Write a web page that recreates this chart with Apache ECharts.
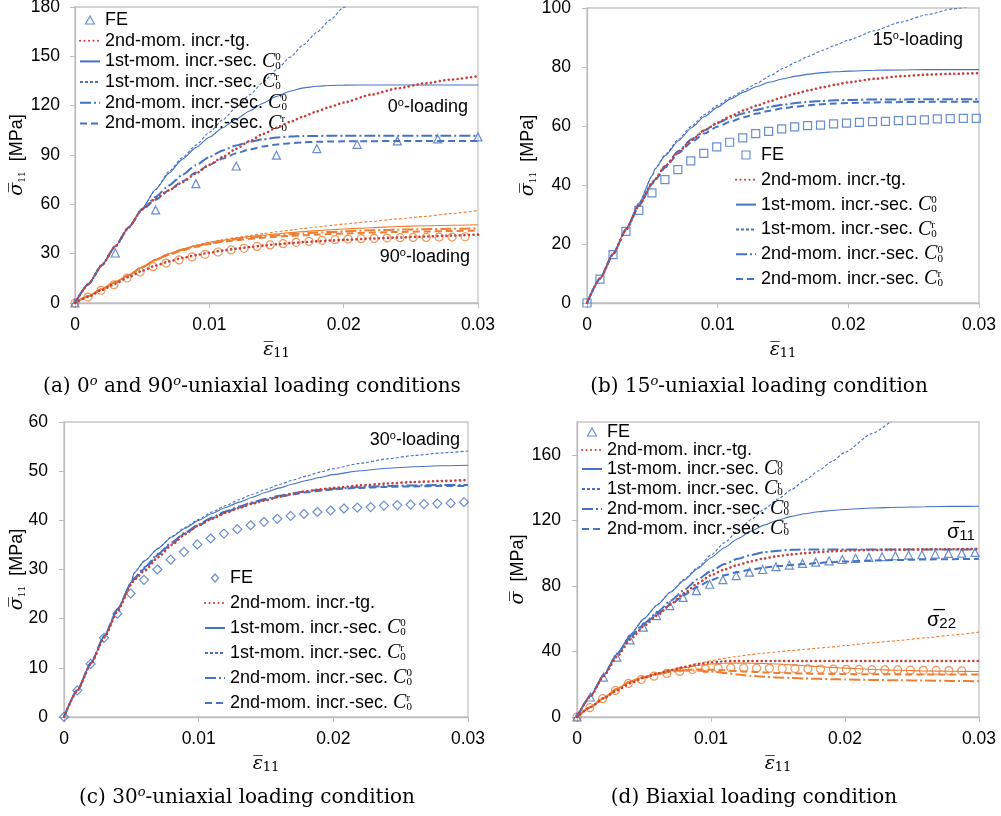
<!DOCTYPE html>
<html>
<head>
<meta charset="utf-8">
<script src="https://cdn.jsdelivr.net/npm/echarts@6.0.0/dist/echarts.min.js"></script>
<style>
html, body { margin: 0; padding: 0; background: #fff; }
#wrap { position: relative; width: 1001px; height: 816px; }
.panel { position: absolute; }
</style>
</head>
<body>
<div id="wrap">
  <div id="pa" class="panel" style="left:0;top:0;width:500px;height:400px"></div>
  <div id="pb" class="panel" style="left:500px;top:0;width:501px;height:400px"></div>
  <div id="pc" class="panel" style="left:0;top:400px;width:500px;height:416px"></div>
  <div id="pd" class="panel" style="left:500px;top:400px;width:501px;height:416px"></div>
</div>
<script>
// ---------- strain sampling of the model curves ----------
const strainAD = [0, 0.001, 0.002, 0.003, 0.004, 0.005, 0.006, 0.007, 0.008, 0.009, 0.010,
  0.011, 0.012, 0.013, 0.014, 0.015, 0.016, 0.017, 0.018, 0.019, 0.020,
  0.022, 0.024, 0.026, 0.028, 0.030];
const strainBC = [0, 0.001, 0.002, 0.003, 0.004, 0.005, 0.0052, 0.006, 0.007, 0.008, 0.009, 0.010,
  0.011, 0.012, 0.013, 0.014, 0.015, 0.016, 0.017, 0.018, 0.019, 0.020,
  0.022, 0.024, 0.026, 0.028, 0.030];

// ---------- (a) 0° and 90° uniaxial ----------
const feA0Strain = [0, 0.003, 0.006, 0.009, 0.012, 0.015, 0.018, 0.021, 0.024, 0.027, 0.030];
const feA0Stress = [0, 30.4, 56.6, 72.6, 83.3, 89.9, 93.9, 96.5, 98.6, 99.8, 101];
const tgA0   = [0, 11.5, 23, 34.5, 46, 57, 63.5, 68.5, 73.5, 78.8, 84, 88.8, 93.8, 98.5, 102.8, 106.6, 110.1, 113.4, 116.5, 119.3, 121.9, 126.6, 130.5, 133.5, 135.9, 137.9];
const s1c0A0 = [0, 11.5, 23, 34.5, 46, 57.5, 69, 79, 87.5, 94.5, 100.8, 106.6, 111.8, 116.8, 121.5, 125.6, 128.8, 130.8, 131.8, 132.3, 132.5, 132.6, 132.6, 132.6, 132.6, 132.6];
const s1crA0 = [0, 11.5, 23, 34.5, 46, 57.5, 69, 80, 88.5, 96, 103.8, 111.4, 119, 126.6, 134.2, 141.8, 149.4, 157, 164.6, 172.2, 179.8, 195];
const s2c0A0 = [0, 11.5, 23, 34.5, 46, 57, 64.5, 71.5, 78, 83.8, 88.8, 92.8, 95.8, 98, 99.6, 100.6, 101.2, 101.5, 101.6, 101.7, 101.7, 101.7, 101.7, 101.7, 101.7, 101.7];
const s2crA0 = [0, 11.5, 23, 34.5, 46, 56.8, 62.8, 68.5, 74, 79.3, 84, 87.8, 91, 93.4, 95.2, 96.4, 97.2, 97.7, 98, 98.2, 98.3, 98.4, 98.5, 98.5, 98.5, 98.5];

const feA90Strain = [0, 0.00097, 0.00194, 0.0029, 0.00387, 0.00484, 0.00581, 0.00678, 0.00774, 0.00871, 0.00968,
  0.01065, 0.01162, 0.01258, 0.01355, 0.01452, 0.01549, 0.01646, 0.01742, 0.01839, 0.01936,
  0.02033, 0.0213, 0.02226, 0.02323, 0.0242, 0.02517, 0.02614, 0.0271, 0.02807, 0.02904];
const feA90Stress = [0, 3.6, 7.7, 11.1, 15.2, 18.9, 22.1, 24.3, 26.2, 28, 29.6, 31, 32.3, 33.3, 34.4, 35.3, 36.1, 36.9, 37.5, 38.1,
  38.5, 38.9, 39.1, 39.3, 39.5, 39.7, 39.9, 39.9, 40.1, 40.1, 40.3];
const tgA90   = [0, 3.8, 7.9, 11.7, 15.8, 19.6, 22.8, 25.3, 27.4, 29.1, 30.6, 31.9, 33, 34, 34.9, 35.7, 36.4, 37, 37.5, 38, 38.4, 39.2, 39.8, 40.4, 41, 41.6];
const s1c0A90 = [0, 4.2, 8.5, 12.7, 17, 21.8, 26.5, 30, 32.8, 35, 36.8, 38.2, 39.4, 40.4, 41.3, 42.1, 42.8, 43.4, 44, 44.5, 45, 45.8, 46.5, 47, 47.3, 47.6];
const s1crA90 = [0, 4.2, 8.5, 12.7, 17, 21.8, 26.5, 30, 32.8, 35.1, 37, 38.5, 39.8, 41, 42.2, 43.3, 44.3, 45.3, 46.2, 47.1, 48, 49.6, 51.1, 52.6, 54.4, 56.2];
const s2c0A90 = [0, 4.2, 8.5, 12.7, 17, 21.8, 26.3, 29.6, 32.4, 34.6, 36.3, 37.7, 38.8, 39.7, 40.5, 41.2, 41.8, 42.3, 42.8, 43.2, 43.6, 44.2, 44.6, 44.9, 45.1, 45.3];
const s2crA90 = [0, 4.2, 8.5, 12.7, 17, 21.7, 26.1, 29.3, 32, 34.2, 35.9, 37.2, 38.2, 39, 39.7, 40.3, 40.8, 41.2, 41.6, 42, 42.3, 42.8, 43.2, 43.5, 43.8, 44];

// ---------- (b) 15° uniaxial ----------
const feBStrain = [0, 0.00099, 0.00199, 0.00298, 0.00397, 0.00497, 0.00596, 0.00695, 0.00794, 0.00894, 0.00993,
  0.01092, 0.01192, 0.01291, 0.0139, 0.0149, 0.01589, 0.01688, 0.01787, 0.01887, 0.01986,
  0.02085, 0.02185, 0.02284, 0.02383, 0.02483, 0.02582, 0.02681, 0.0278, 0.0288, 0.02979];
const feBStress = [0, 8.1, 16.4, 24.3, 31.4, 37.3, 41.8, 45.2, 48.2, 50.7, 52.9, 54.5, 56, 57.4, 58.2, 59, 59.7, 60.1, 60.3, 60.7,
  61, 61.2, 61.5, 61.6, 61.8, 61.9, 62.1, 62.4, 62.5, 62.6, 62.6];
const tgB   = [0, 8.3, 16.6, 24.9, 33.2, 40.8, 42, 46.5, 51.2, 55.2, 58.5, 61.1, 63.4, 65.3, 66.9, 68.4, 69.8, 71, 72.1, 73.1, 74, 74.8, 76, 76.9, 77.4, 77.7, 77.9];
const s1c0B = [0, 8.4, 16.8, 25.3, 34, 43.2, 45.4, 50, 55, 59.4, 63.2, 66.4, 69.2, 71.5, 73.4, 74.9, 76, 76.9, 77.6, 78.1, 78.4, 78.6, 78.9, 79, 79.1, 79.1, 79.1];
const s1crB = [0, 8.4, 16.8, 25.3, 34, 43.2, 45.4, 50.3, 55.5, 60, 63.9, 67, 69.7, 72.1, 74.5, 77, 79.5, 81.7, 83.7, 85.6, 87.4, 89.1, 92.3, 95.2, 97.7, 99.7, 101.2];
const s2c0B = [0, 8.3, 16.6, 24.9, 33.2, 40.6, 41.8, 46.5, 51.5, 55.5, 58.6, 61.1, 62.9, 64.3, 65.5, 66.5, 67.2, 67.8, 68.2, 68.5, 68.7, 68.8, 69, 69, 69.1, 69.1, 69.1];
const s2crB = [0, 8.3, 16.6, 24.9, 33.2, 40.4, 41.6, 46, 50.8, 54.5, 57.5, 59.8, 61.5, 63, 64.2, 65.2, 66, 66.6, 67, 67.4, 67.6, 67.8, 68, 68.1, 68.2, 68.2, 68.2];

// ---------- (c) 30° uniaxial ----------
const feCStrain = [0, 0.00099, 0.00198, 0.00297, 0.00396, 0.00495, 0.00594, 0.00693, 0.00792, 0.00891, 0.0099,
  0.01089, 0.01188, 0.01287, 0.01386, 0.01485, 0.01584, 0.01683, 0.01782, 0.01881, 0.0198,
  0.02079, 0.02178, 0.02277, 0.02376, 0.02475, 0.02574, 0.02673, 0.02772, 0.02871, 0.0297];
const feCStress = [0, 5.4, 10.8, 16.1, 21, 25.1, 27.9, 30, 32, 33.6, 35.1, 36.3, 37.3, 38.2, 39, 39.7, 40.3, 40.9, 41.3, 41.7,
  42, 42.4, 42.6, 42.7, 43, 43.1, 43.2, 43.3, 43.4, 43.5, 43.7];
const tgC   = [0, 5.4, 10.8, 16.2, 21.6, 27, 27.9, 29.8, 32.5, 35, 37.2, 39, 40.3, 41.5, 42.5, 43.4, 44.1, 44.8, 45.4, 45.9, 46.3, 46.6, 47.1, 47.5, 47.8, 48, 48.2];
const s1c0C = [0, 5.5, 11, 16.5, 22, 27.4, 29.3, 31.8, 34.3, 36.6, 38.4, 40, 41.4, 42.6, 43.7, 44.7, 45.7, 46.6, 47.4, 48.1, 48.7, 49.3, 50.1, 50.6, 50.9, 51.1, 51.2];
const s1crC = [0, 5.5, 11, 16.5, 22, 27.4, 29.3, 31.8, 34.3, 36.7, 38.6, 40.2, 41.7, 43, 44.2, 45.3, 46.3, 47.3, 48.2, 49, 49.8, 50.5, 51.6, 52.5, 53.2, 53.7, 54.1];
const s2c0C = [0, 5.5, 11, 16.5, 22, 27.3, 28.2, 30.5, 33.2, 35.5, 37.5, 39.2, 40.6, 41.8, 42.8, 43.7, 44.4, 45, 45.5, 45.9, 46.2, 46.4, 46.8, 47, 47.1, 47.2, 47.2];
const s2crC = [0, 5.5, 11, 16.5, 22, 27.2, 28, 30.2, 33, 35.3, 37.3, 39, 40.4, 41.6, 42.6, 43.5, 44.2, 44.8, 45.3, 45.7, 46, 46.3, 46.6, 46.8, 46.9, 47, 47];

// ---------- (d) biaxial: sigma_11 and sigma_22 ----------
const feD11Strain = feCStrain;
const feD11Stress = [0, 12.2, 24.3, 36.5, 47, 54.8, 61.9, 68, 73, 77.1, 81, 83.8, 86.3, 88.4, 90, 91.7, 92.7, 93.7, 94.5, 95.3,
  96.1, 96.8, 97.4, 97.8, 98.4, 98.8, 99, 99.4, 99.8, 100, 100.4];
const tgD11   = [0, 12.5, 25, 37, 47.5, 55.5, 62, 69, 75.5, 81.5, 86.5, 90, 92.8, 95, 96.8, 98.2, 99.2, 100, 100.6, 101.1, 101.5, 101.9, 102.1, 102.3, 102.4, 102.5];
const s1c0D11 = [0, 12.8, 25.6, 38.4, 50.5, 60, 68.5, 76.3, 83.5, 90.5, 97.2, 103.3, 108.8, 113.5, 117.2, 120.2, 122.4, 124, 125.2, 126, 126.6, 127.5, 128, 128.3, 128.5, 128.6];
const s1crD11 = [0, 12.8, 25.6, 38.4, 50.5, 60, 68.5, 76.5, 84, 91.3, 98.8, 106.3, 113.6, 120.5, 127, 133, 138.7, 144.4, 150.1, 155.8, 161.5, 172.9, 184.3];
const s2c0D11 = [0, 12.8, 25.6, 38.4, 49.5, 57, 64, 71, 77.5, 84, 89, 93.3, 96.5, 99, 100.6, 101.5, 102, 102.2, 102.2, 102.2, 102.2, 102.2, 102.2, 102.2, 102.2, 102.2];
const s2crD11 = [0, 12.8, 25.6, 38.4, 49, 56.5, 63, 68.5, 74.5, 79.5, 83.5, 86.5, 88.5, 90, 91.2, 92.1, 92.8, 93.4, 94, 94.5, 94.9, 95.5, 95.8, 96.1, 96.3, 96.5];

const feD22Strain = [0, 0.00096, 0.00191, 0.00287, 0.00383, 0.00479, 0.00574, 0.0067, 0.00766, 0.00861, 0.00957,
  0.01053, 0.01148, 0.01244, 0.0134, 0.01436, 0.01531, 0.01627, 0.01723, 0.01818, 0.01914,
  0.0201, 0.02105, 0.02201, 0.02297, 0.02393, 0.02488, 0.02584, 0.0268, 0.02775, 0.02871];
const feD22Stress = [0, 5.7, 11.2, 16.2, 20.5, 22.9, 24.9, 26.6, 27.8, 29, 29.4, 29.8, 30, 29.9, 29.8, 29.7, 29.6, 29.5, 29.4, 29.3,
  29.2, 29.1, 29, 28.9, 28.8, 28.7, 28.6, 28.5, 28.4, 28.3, 28.2];
const tgD22   = [0, 6, 11.5, 16.3, 20.7, 24, 26.5, 28.5, 30.5, 32.2, 33.4, 34, 34.2, 34.2, 34.2, 34.2, 34.2, 34.2, 34.2, 34.2, 34.2, 34.2, 34.2, 34.2, 34.2, 34.2];
const s1c0D22 = [0, 6, 11.6, 17.2, 22, 24.5, 26.5, 28.3, 30, 31.4, 32.3, 32.8, 32.9, 32.8, 32.6, 32.3, 31.8, 31.3, 30.8, 30.3, 29.8, 29, 28.5, 28.1, 27.9, 27.8];
const s1crD22 = [0, 6, 11.6, 17.2, 22, 24.7, 26.9, 28.8, 30.7, 32.6, 34.3, 35.8, 37.1, 38.1, 39, 39.8, 40.6, 41.3, 42, 42.8, 43.6, 45.2, 46.7, 48.3, 50, 51.8];
const s2c0D22 = [0, 6, 11.6, 17.2, 21.8, 24.2, 26.2, 27.6, 28.3, 28.3, 27.7, 26.8, 25.9, 25.1, 24.5, 24.1, 23.8, 23.5, 23.3, 23.1, 22.9, 22.6, 22.4, 22.2, 22, 21.8];
const s2crD22 = [0, 6, 11.6, 17.2, 21.8, 24.2, 26.2, 27.7, 28.6, 29, 28.9, 28.5, 28, 27.6, 27.2, 26.9, 26.7, 26.5, 26.4, 26.3, 26.2, 26.1, 26, 26, 25.9, 25.9];

// ---------- styling ----------
const BLUE = '#4472C4', ORANGE = '#ED7D31', RED = '#C8403A';
const SANS = 'Liberation Sans', SERIF = 'DejaVu Serif', MATH = 'Liberation Serif';

const lineStyles = {
  tg:   (c) => ({ color: c, width: 2.6, type: [0.1, 4.4], cap: 'round' }),
  s1c0: (c) => ({ color: c, width: 1.1, type: 'solid' }),
  s1cr: (c) => ({ color: c, width: 1.1, type: [3, 2] }),
  s2c0: (c) => ({ color: c, width: 2, type: [11, 3, 2, 3] }),
  s2cr: (c) => ({ color: c, width: 2, type: [7, 4] })
};

// hollow outline glyphs used as legend keys for the FE points
const feIcons = {
  triangle: 'path://M4.5,0 L9,8 L0,8 Z',
  rect: 'path://M0,0 L8,0 L8,8 L0,8 Z',
  diamond: 'path://M4,0 L8,4.5 L4,9 L0,4.5 Z'
};

const legendText = {
  FE: '{t|FE}',
  tg: '{t|2nd-mom. incr.-tg.}',
  s1c0: '{t|1st-mom. incr.-sec. }{c|C}{sb|0}{sp|0}',
  s1cr: '{t|1st-mom. incr.-sec. }{c|C}{sb|0}{sp|r}',
  s2c0: '{t|2nd-mom. incr.-sec. }{c|C}{sb|0}{sp|0}',
  s2cr: '{t|2nd-mom. incr.-sec. }{c|C}{sb|0}{sp|r}'
};

function zip(xs, ys) { return ys.map((y, i) => [xs[i], y]); }

function curve(name, key, xs, ys, color, z) {
  return {
    type: 'line', name: name, data: zip(xs, ys), symbol: 'none', showSymbol: false,
    smooth: 0.2, smoothMonotone: 'x', clip: true, lineStyle: lineStyles[key](color),
    itemStyle: { color: color }, emphasis: { disabled: true }, silent: true, z: z || 2
  };
}

function markers(name, xs, ys, symbol, color, size) {
  return {
    type: 'scatter', name: name, data: zip(xs, ys), symbol: symbol, symbolSize: size || 8,
    itemStyle: { color: 'rgba(255,255,255,0)', borderColor: color, borderWidth: 1.2 },
    emphasis: { disabled: true }, silent: true, z: 3
  };
}

function legendRich(lh) {
  return {
    t:  { fontFamily: SANS, fontSize: 18, lineHeight: lh, color: '#000' },
    c:  { fontFamily: MATH, fontStyle: 'italic', fontSize: 20, lineHeight: lh, color: '#000' },
    sb: { fontFamily: MATH, fontSize: 11, lineHeight: 9, verticalAlign: 'bottom', color: '#000', width: 0 },
    sp: { fontFamily: MATH, fontSize: 11, lineHeight: 9, verticalAlign: 'top', color: '#000' }
  };
}

const axisNameRich = {
  s: { fontFamily: SERIF, fontStyle: 'italic', fontSize: 19, color: '#000' },
  e: { fontFamily: SERIF, fontStyle: 'italic', fontSize: 19, color: '#000' },
  b: { fontFamily: SERIF, fontSize: 9, verticalAlign: 'bottom', lineHeight: 9, color: '#000' },
  x: { fontFamily: SERIF, fontSize: 13, verticalAlign: 'bottom', lineHeight: 12, color: '#000' },
  t: { fontFamily: SANS, fontSize: 18, color: '#000' }
};

const noteRich = {
  n: { fontFamily: SANS, fontSize: 18, color: '#000', lineHeight: 20 },
  o: { fontFamily: SANS, fontSize: 11, color: '#000', lineHeight: 11, verticalAlign: 'top' },
  g: { fontFamily: SANS, fontSize: 20, color: '#000', lineHeight: 22 },
  k: { fontFamily: SANS, fontSize: 15, color: '#000', lineHeight: 12, verticalAlign: 'bottom' }
};

const captionRich = {
  c: { fontFamily: SERIF, fontSize: 20, color: '#000', lineHeight: 24 },
  o: { fontFamily: SERIF, fontStyle: 'italic', fontSize: 13, color: '#000', lineHeight: 13, verticalAlign: 'top' }
};

function note(x, y, text, align) {
  return { type: 'text', x: x, y: y, silent: true,
    style: { text: text, rich: noteRich, align: align || 'right', verticalAlign: 'middle' } };
}

function caption(x, y, text) {
  return { type: 'text', x: x, y: y, silent: true,
    style: { text: text, rich: captionRich, align: 'center', verticalAlign: 'middle' } };
}

function legendItems(feIcon) {
  const hide = { opacity: 0 };
  return [
    { name: 'FE', icon: feIcon, itemStyle: { color: 'rgba(255,255,255,0)', borderColor: BLUE, borderWidth: 1.2 } },
    { name: 'tg', itemStyle: hide },
    { name: 's1c0', itemStyle: hide },
    { name: 's1cr', itemStyle: hide },
    { name: 's2c0', itemStyle: hide },
    { name: 's2cr', itemStyle: hide }
  ];
}

function buildPanel(el, p) {
  const chart = echarts.init(document.getElementById(el), null, { renderer: 'canvas' });
  chart.setOption({
    animation: false,
    backgroundColor: '#fff',
    grid: Object.assign({ show: true, borderColor: '#C6C6C6', borderWidth: 1.3,
      containLabel: false, outerBoundsMode: 'none' }, p.grid),
    xAxis: {
      type: 'value', min: 0, max: 0.03, interval: 0.01,
      name: '{e|ε\u0305}{x|11}', nameLocation: 'middle', nameGap: p.xNameGap, nameMoveOverlap: false,
      nameTextStyle: { rich: axisNameRich },
      axisLine: { show: true, onZero: false, lineStyle: { color: '#BDBDBD', width: 1.3 } },
      axisTick: { show: true, inside: false, length: 5, lineStyle: { color: '#BDBDBD' } },
      axisLabel: { margin: 13, fontFamily: SANS, fontSize: 17.5, color: '#000',
        formatter: (v) => (v === 0 ? '0' : String(+v.toFixed(2))) },
      splitLine: { show: false }
    },
    yAxis: {
      type: 'value', min: 0, max: p.yMax, interval: p.yInterval,
      name: p.yName, nameLocation: 'middle', nameGap: p.yNameGap, nameRotate: 90, nameMoveOverlap: false,
      nameTextStyle: { rich: axisNameRich },
      axisLine: { show: true, onZero: false, lineStyle: { color: '#BDBDBD', width: 1.3 } },
      axisTick: { show: true, inside: false, length: 5, lineStyle: { color: '#BDBDBD' } },
      axisLabel: { margin: p.yLabelMargin, fontFamily: SANS, fontSize: 17.5, color: '#000',
        showMaxLabel: p.showMax !== false },
      splitLine: { show: false }
    },
    legend: {
      orient: 'vertical', left: p.legend.left, top: p.legend.top, itemGap: p.legend.gap,
      itemWidth: 20, itemHeight: 8, padding: 0, selectedMode: false,
      data: legendItems(p.feIcon),
      formatter: (name) => legendText[name],
      textStyle: { rich: legendRich(p.legend.lh), lineHeight: p.legend.lh }
    },
    graphic: p.graphic,
    series: p.series
  });
  return chart;
}

// (a)
buildPanel('pa', {
  grid: { left: 75, top: 7, width: 403, height: 296 },
  yMax: 180, yInterval: 30, yLabelMargin: 15,
  yName: '{s|σ\u0305}{b|11}{t|  [MPa]}', yNameGap: 48, xNameGap: 38,
  feIcon: feIcons.triangle,
  legend: { left: 79, top: 10, gap: 0.7, lh: 20 },
  graphic: [
    note(468, 107, '{n|0}{o|o}{n|-loading}'),
    note(470, 257, '{n|90}{o|o}{n|-loading}'),
    caption(252, 387, '{c|(a) 0}{o|o}{c| and 90}{o|o}{c|-uniaxial loading conditions}')
  ],
  series: [
    curve('a90-s1cr', 's1cr', strainAD, s1crA90, ORANGE),
    curve('a90-s1c0', 's1c0', strainAD, s1c0A90, ORANGE),
    curve('a90-s2c0', 's2c0', strainAD, s2c0A90, ORANGE),
    curve('a90-s2cr', 's2cr', strainAD, s2crA90, ORANGE),
    markers('a90-FE', feA90Strain, feA90Stress, 'circle', ORANGE, 8),
    curve('a90-tg', 'tg', strainAD, tgA90, RED, 4),
    markers('FE', feA0Strain, feA0Stress, 'triangle', BLUE, 8),
    curve('tg', 'tg', strainAD, tgA0, RED, 4),
    curve('s1c0', 's1c0', strainAD, s1c0A0, BLUE),
    curve('s1cr', 's1cr', strainAD, s1crA0, BLUE),
    curve('s2c0', 's2c0', strainAD, s2c0A0, BLUE),
    curve('s2cr', 's2cr', strainAD, s2crA0, BLUE)
  ]
});

// (b)
buildPanel('pb', {
  grid: { left: 87, top: 8, width: 392, height: 295 },
  yMax: 100, yInterval: 20, yLabelMargin: 16,
  yName: '{s|σ\u0305}{b|11}{t|  [MPa]}', yNameGap: 49, xNameGap: 38,
  feIcon: feIcons.rect,
  legend: { left: 235, top: 145, gap: 4.8, lh: 20 },
  graphic: [
    note(463, 40, '{n|15}{o|o}{n|-loading}'),
    caption(259, 387, '{c|(b) 15}{o|o}{c|-uniaxial loading condition}')
  ],
  series: [
    markers('FE', feBStrain, feBStress, 'rect', BLUE, 8),
    curve('tg', 'tg', strainBC, tgB, RED, 4),
    curve('s1c0', 's1c0', strainBC, s1c0B, BLUE),
    curve('s1cr', 's1cr', strainBC, s1crB, BLUE),
    curve('s2c0', 's2c0', strainBC, s2c0B, BLUE),
    curve('s2cr', 's2cr', strainBC, s2crB, BLUE)
  ]
});

// (c)
buildPanel('pc', {
  grid: { left: 64, top: 22, width: 404, height: 295 },
  yMax: 60, yInterval: 10, yLabelMargin: 16,
  yName: '{s|σ\u0305}{b|11}{t|  [MPa]}', yNameGap: 37, xNameGap: 38,
  feIcon: feIcons.diamond,
  legend: { left: 204, top: 168, gap: 5, lh: 20 },
  graphic: [
    note(460, 40, '{n|30}{o|o}{n|-loading}'),
    caption(247, 398, '{c|(c) 30}{o|o}{c|-uniaxial loading condition}')
  ],
  series: [
    markers('FE', feCStrain, feCStress, 'diamond', BLUE, 9),
    curve('tg', 'tg', strainBC, tgC, RED, 4),
    curve('s1c0', 's1c0', strainBC, s1c0C, BLUE),
    curve('s1cr', 's1cr', strainBC, s1crC, BLUE),
    curve('s2c0', 's2c0', strainBC, s2c0C, BLUE),
    curve('s2cr', 's2cr', strainBC, s2crC, BLUE)
  ]
});

// (d)
buildPanel('pd', {
  grid: { left: 77, top: 22, width: 402, height: 295 },
  yMax: 180, yInterval: 40, yLabelMargin: 16, showMax: false,
  yName: '{s|σ\u0305}{t|  [MPa]}', yNameGap: 49, xNameGap: 38,
  feIcon: feIcons.triangle,
  legend: { left: 81, top: 23, gap: 0, lh: 17.8 },
  graphic: [
    note(447, 132, '{g|σ\u0305}{k|11}', 'left'),
    note(427, 220, '{g|σ\u0305}{k|22}', 'left'),
    caption(254, 398, '{c|(d) Biaxial loading condition}')
  ],
  series: [
    curve('d22-s1cr', 's1cr', strainAD, s1crD22, ORANGE),
    curve('d22-s1c0', 's1c0', strainAD, s1c0D22, ORANGE),
    curve('d22-s2c0', 's2c0', strainAD, s2c0D22, ORANGE),
    curve('d22-s2cr', 's2cr', strainAD, s2crD22, ORANGE),
    markers('d22-FE', feD22Strain, feD22Stress, 'circle', ORANGE, 8),
    curve('d22-tg', 'tg', strainAD, tgD22, RED, 4),
    markers('FE', feD11Strain, feD11Stress, 'triangle', BLUE, 8),
    curve('tg', 'tg', strainAD, tgD11, RED, 4),
    curve('s1c0', 's1c0', strainAD, s1c0D11, BLUE),
    curve('s1cr', 's1cr', strainAD, s1crD11, BLUE),
    curve('s2c0', 's2c0', strainAD, s2c0D11, BLUE),
    curve('s2cr', 's2cr', strainAD, s2crD11, BLUE)
  ]
});
</script>
</body>
</html>
